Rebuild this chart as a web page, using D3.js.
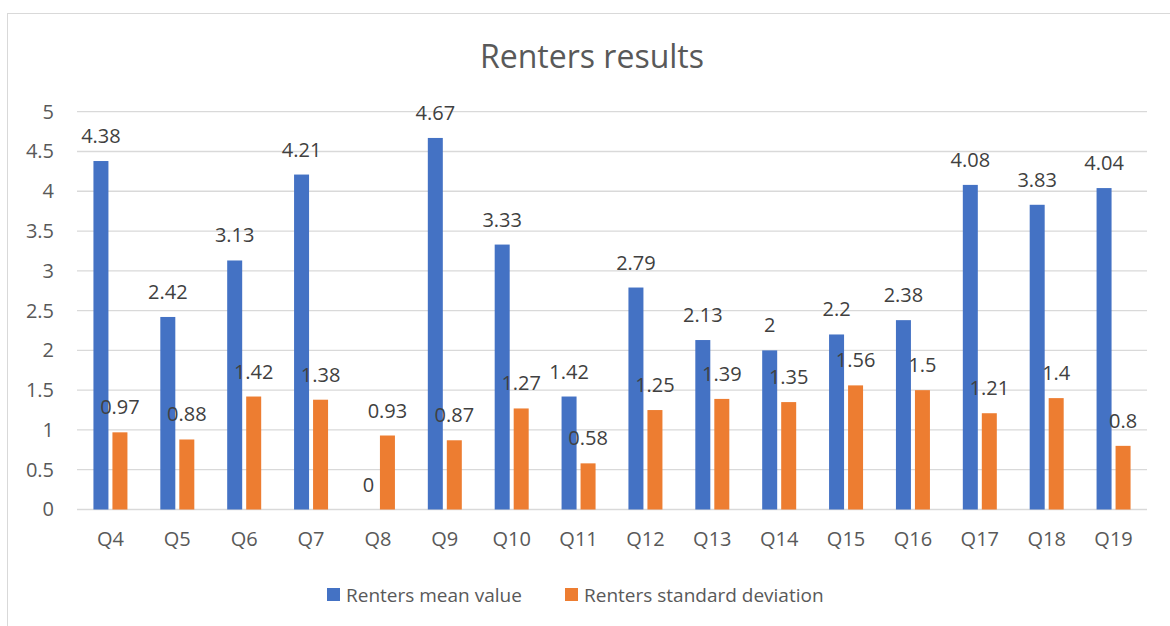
<!DOCTYPE html>
<head>
    <title>Renters results</title>
    <style>
        body { margin: 0; background: #fff; }
        .axis text { font-family: "Open Sans", sans-serif; fill: #595959; }
        .lbl { font-family: "Open Sans", sans-serif; fill: #404040; }
    </style>
</head>
<body>
<script src="https://cdn.jsdelivr.net/npm/d3@7"></script>
<script type="text/javascript">
    // data
    var categories = ["Q4", "Q5", "Q6", "Q7", "Q8", "Q9", "Q10", "Q11", "Q12", "Q13", "Q14", "Q15", "Q16", "Q17", "Q18", "Q19"];
    var meanValues = [4.38, 2.42, 3.13, 4.21, 0, 4.67, 3.33, 1.42, 2.79, 2.13, 2, 2.2, 2.38, 4.08, 3.83, 4.04];
    var sdValues = [0.97, 0.88, 1.42, 1.38, 0.93, 0.87, 1.27, 0.58, 1.25, 1.39, 1.35, 1.56, 1.5, 1.21, 1.4, 0.8];
    var seriesNames = ["Renters mean value", "Renters standard deviation"];
    var seriesColors = ["#4472C4", "#ED7D31"];
    var yTicks = [0, 0.5, 1, 1.5, 2, 2.5, 3, 3.5, 4, 4.5, 5];

    var frameWidth = 1170, frameHeight = 626;
    // plot area (window.top is reserved, so plotTop)
    var plotLeft = 77, plotRight = 1147, plotTop = 111.7, plotBottom = 509.5;

    var svg = d3.select("body").append("svg")
        .attr("width", frameWidth)
        .attr("height", frameHeight);

    // chart border
    svg.append("rect")
        .attr("x", 7.5).attr("y", 13.5)
        .attr("width", 1200).attr("height", 700)
        .attr("fill", "none")
        .attr("stroke", "#d9d9d9");

    var x = d3.scaleBand().domain(categories).range([plotLeft, plotRight]);
    var y = d3.scaleLinear().domain([0, 5]).range([plotBottom, plotTop]);

    var barW = 15, barGap = 4;

    // gridlines
    svg.append("g").selectAll("line")
        .data(yTicks).enter().append("line")
        .attr("x1", plotLeft).attr("x2", plotRight)
        .attr("y1", function (d) { return y(d); })
        .attr("y2", function (d) { return y(d); })
        .attr("stroke", "#d9d9d9")
        .attr("stroke-width", 1.3);

    // y axis labels
    var yAxis = d3.axisLeft(y).tickValues(yTicks).tickSize(0).tickPadding(0)
        .tickFormat(function (d) { return d; });
    svg.append("g")
        .attr("class", "axis")
        .attr("transform", "translate(" + (plotLeft - 23) + ",0)")
        .call(yAxis)
        .call(function (g) { g.select(".domain").remove(); })
        .selectAll("text").style("font-size", "20px");

    // x axis labels
    var xAxis = d3.axisBottom(x).tickSize(0).tickPadding(0);
    svg.append("g")
        .attr("class", "axis")
        .attr("transform", "translate(0," + (plotBottom + 22) + ")")
        .call(xAxis)
        .call(function (g) { g.select(".domain").remove(); })
        .selectAll("text").style("font-size", "20px");

    var series = [meanValues, sdValues];
    series.forEach(function (vals, s) {
        var off = s === 0 ? -(barW + barGap / 2) : barGap / 2;
        var g = svg.append("g");
        g.selectAll("rect")
            .data(vals).enter().append("rect")
            .attr("x", function (d, i) { return x(categories[i]) + x.bandwidth() / 2 + off; })
            .attr("y", function (d) { return y(d); })
            .attr("width", barW)
            .attr("height", function (d) { return plotBottom - y(d); })
            .attr("fill", seriesColors[s]);
        g.selectAll("text")
            .data(vals).enter().append("text")
            .attr("class", "lbl")
            .attr("x", function (d, i) { return x(categories[i]) + x.bandwidth() / 2 + off + barW / 2; })
            .attr("y", function (d) { return y(d) - 18; })
            .attr("text-anchor", "middle")
            .style("font-size", "20px")
            .text(function (d) { return d; });
    });

    // title
    svg.append("text")
        .attr("x", 592).attr("y", 68)
        .attr("text-anchor", "middle")
        .style("font-family", "Open Sans, sans-serif")
        .style("font-size", "32px")
        .style("fill", "#595959")
        .text("Renters results");

    // legend
    var legendX = [327, 565];
    seriesNames.forEach(function (name, s) {
        svg.append("rect")
            .attr("x", legendX[s]).attr("y", 588)
            .attr("width", 13).attr("height", 13)
            .attr("fill", seriesColors[s]);
        svg.append("text")
            .attr("x", legendX[s] + 19).attr("y", 602)
            .style("font-family", "Open Sans, sans-serif")
            .style("font-size", "19px")
            .style("fill", "#595959")
            .text(name);
    });
</script>
</body>
